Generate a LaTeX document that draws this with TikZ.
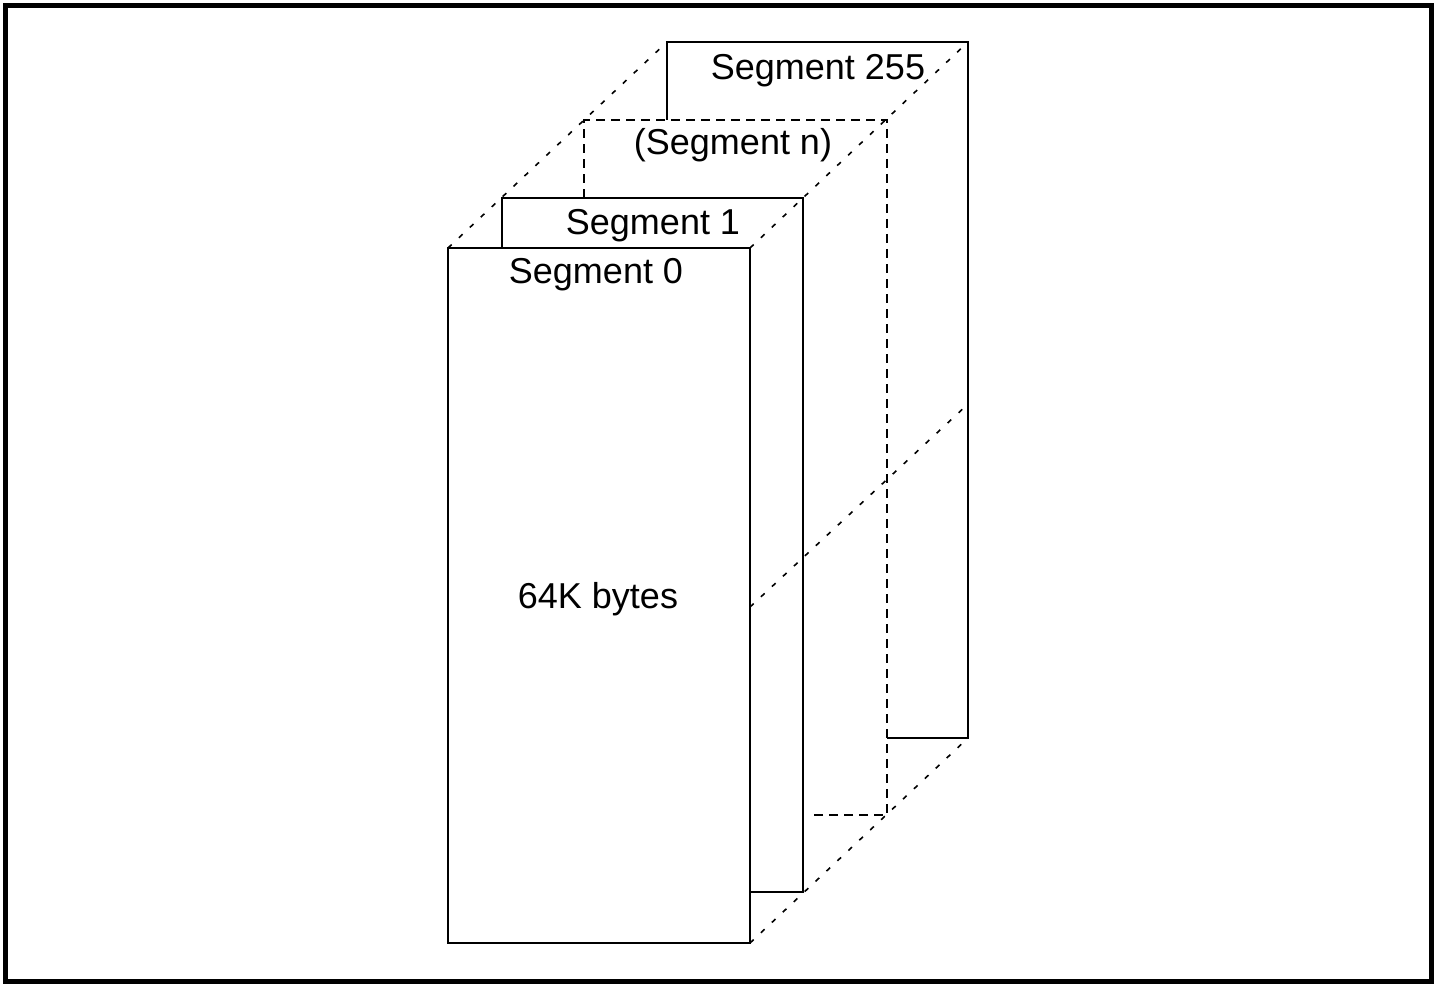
\documentclass[tikz,border=0pt]{standalone}
\usepackage{fontspec}
\setmainfont{Liberation Sans}
\usepackage{tikz}

\tikzset{
  solidline/.style={line width=1.6pt, line join=miter},
  hiddenline/.style={line width=1.6pt, dash pattern=on 9pt off 6pt},
  depthline/.style={line width=1.6pt, dash pattern=on 5pt off 10pt},
  seglabel/.style={font=\fontsize{36}{43}\selectfont, anchor=base, inner sep=0pt}
}

\begin{document}
\begin{tikzpicture}[x=1pt,y=-1pt]
            \useasboundingbox (0,0) rectangle (1447,984);
            \draw[line width=5pt] (5.5,5.5) rectangle (1431.5,981.5);

            % corners of the segments
            \coordinate (s0tl) at (448,248);
            \coordinate (s0tr) at (750,248);
            \coordinate (s0mr) at (750,607);
            \coordinate (s0br) at (750,943);
            \coordinate (s1tl) at (502,198);
            \coordinate (s1tr) at (803,198);
            \coordinate (s1br) at (803,892);
            \coordinate (sntl) at (584,120);
            \coordinate (sntr) at (887,120);
            \coordinate (snbr) at (887,815);
            \coordinate (s5tl) at (667,42);
            \coordinate (s5tr) at (968,42);
            \coordinate (s5mr) at (968,404);
            \coordinate (s5br) at (968,738);

            % segment 0
            \draw[solidline] (s0tl) rectangle (s0br);
            % segment 1
            \draw[solidline] (s1tl |- s0tl) -- (s1tl) -- (s1tr) -- (s1br) -- (s0br |- s1br);
            % segment n
            \draw[hiddenline] (sntl |- s1tl) -- (sntl) -- (sntr) -- (snbr) -- ([xshift=8pt]s1br |- snbr);
            % segment 255
            \draw[solidline] (s5tl |- sntl) -- (s5tl) -- (s5tr) -- (s5br) -- (snbr |- s5br);

            \path[depthline]
                (s0tl) edge (s5tl)
                (s0tr) edge (s5tr)
                (s0mr) edge (s5mr)
                (s0br) edge (s5br);

            \node[seglabel] (l255) at (818,80)  {Segment 255};
            \node[seglabel] (ln)   at (733,155) {(Segment n)};
            \node[seglabel] (l1)   at (653,235) {Segment 1};
            \node[seglabel] (l0)   at (596,283) {Segment 0};
            \node[seglabel] (lsz)  at (598,608) {64K bytes};
        \end{tikzpicture}
\end{document}
